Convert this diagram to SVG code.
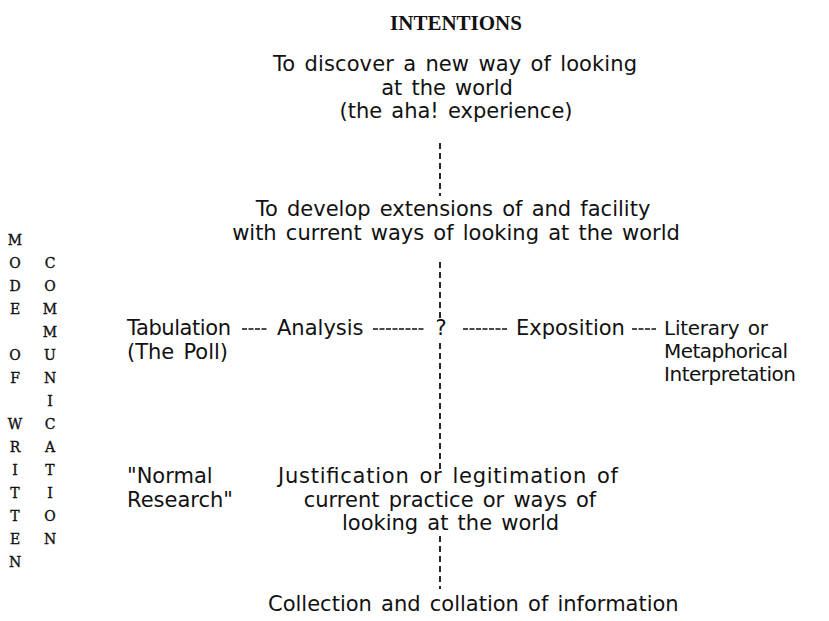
<svg xmlns="http://www.w3.org/2000/svg" width="829" height="621" viewBox="0 0 829 621">
<style>
.t{font-family:"DejaVu Sans","Liberation Sans",sans-serif;font-size:21px;fill:#111;word-spacing:2.5px}
.s{font-size:20px}
.c{text-anchor:middle}
.title{font-family:"Liberation Serif","DejaVu Serif",serif;font-size:21px;font-weight:bold;fill:#111;text-anchor:middle}
.m{font-family:"DejaVu Serif","Liberation Serif",serif;font-size:14px;fill:#111;stroke:#111;stroke-width:0.35;text-anchor:middle}
.v{stroke:#111;stroke-width:1.8;stroke-dasharray:6 4;fill:none}
.h{stroke:#111;stroke-width:1.6;stroke-dasharray:5 1.5;fill:none}
</style>
<rect width="829" height="621" fill="#fff"/>
<g id="title"><text class="title" x="456" y="30">INTENTIONS</text></g>
<g id="aha"><text class="t c" x="455" y="71" textLength="364" lengthAdjust="spacing">To discover a new way of looking</text><text class="t c" x="447" y="95">at the world</text><text class="t c" x="456" y="118">(the aha! experience)</text></g>
<g id="extensions"><text class="t c" x="453" y="216">To develop extensions of and facility</text><text class="t c" x="456" y="240">with current ways of looking at the world</text></g>
<g id="tabulation"><text class="t" x="127" y="335" textLength="104" lengthAdjust="spacing">Tabulation</text><text class="t" x="127" y="359">(The Poll)</text></g>
<g id="analysis"><text class="t" x="277" y="335">Analysis</text></g>
<g id="question"><text class="t c" x="441" y="335">?</text></g>
<g id="exposition"><text class="t" x="516" y="335">Exposition</text></g>
<g id="literary"><text class="t s" x="664" y="335" textLength="104" lengthAdjust="spacing">Literary or</text><text class="t s" x="664" y="358" textLength="124" lengthAdjust="spacing">Metaphorical</text><text class="t s" x="664" y="381" textLength="132" lengthAdjust="spacing">Interpretation</text></g>
<g id="normal"><text class="t" x="127" y="483">"Normal</text><text class="t" x="127" y="507">Research"</text></g>
<g id="justification"><text class="t" x="278" y="483" textLength="340" lengthAdjust="spacing">Justification or legitimation of</text><text class="t c" x="450" y="507">current practice or ways of</text><text class="t" x="342" y="530">looking at the world</text></g>
<g id="collection"><text class="t" x="268" y="611">Collection and collation of information</text></g>
<g id="mode-of-written"><text class="m"><tspan x="15" y="245">M</tspan><tspan x="15" y="268">O</tspan><tspan x="15" y="291">D</tspan><tspan x="15" y="314">E</tspan><tspan x="15" y="360">O</tspan><tspan x="15" y="383">F</tspan><tspan x="15" y="429">W</tspan><tspan x="15" y="452">R</tspan><tspan x="15" y="475">I</tspan><tspan x="15" y="498">T</tspan><tspan x="15" y="521">T</tspan><tspan x="15" y="544">E</tspan><tspan x="15" y="567">N</tspan></text></g>
<g id="communication"><text class="m"><tspan x="50" y="268">C</tspan><tspan x="50" y="291">O</tspan><tspan x="50" y="314">M</tspan><tspan x="50" y="337">M</tspan><tspan x="50" y="360">U</tspan><tspan x="50" y="383">N</tspan><tspan x="50" y="406">I</tspan><tspan x="50" y="429">C</tspan><tspan x="50" y="452">A</tspan><tspan x="50" y="475">T</tspan><tspan x="50" y="498">I</tspan><tspan x="50" y="521">O</tspan><tspan x="50" y="544">N</tspan></text></g>
<g id="connectors">
<line class="v" x1="440" y1="143" x2="440" y2="196"/>
<line class="v" x1="440" y1="262" x2="440" y2="318"/>
<line class="v" x1="440" y1="343" x2="440" y2="472"/>
<line class="v" x1="440" y1="536" x2="440" y2="589"/>
<line class="h" x1="242" y1="329" x2="268" y2="329"/>
<line class="h" x1="373" y1="329" x2="425" y2="329"/>
<line class="h" x1="463" y1="329" x2="507" y2="329"/>
<line class="h" x1="632" y1="329" x2="656" y2="329"/>
</g>
</svg>
